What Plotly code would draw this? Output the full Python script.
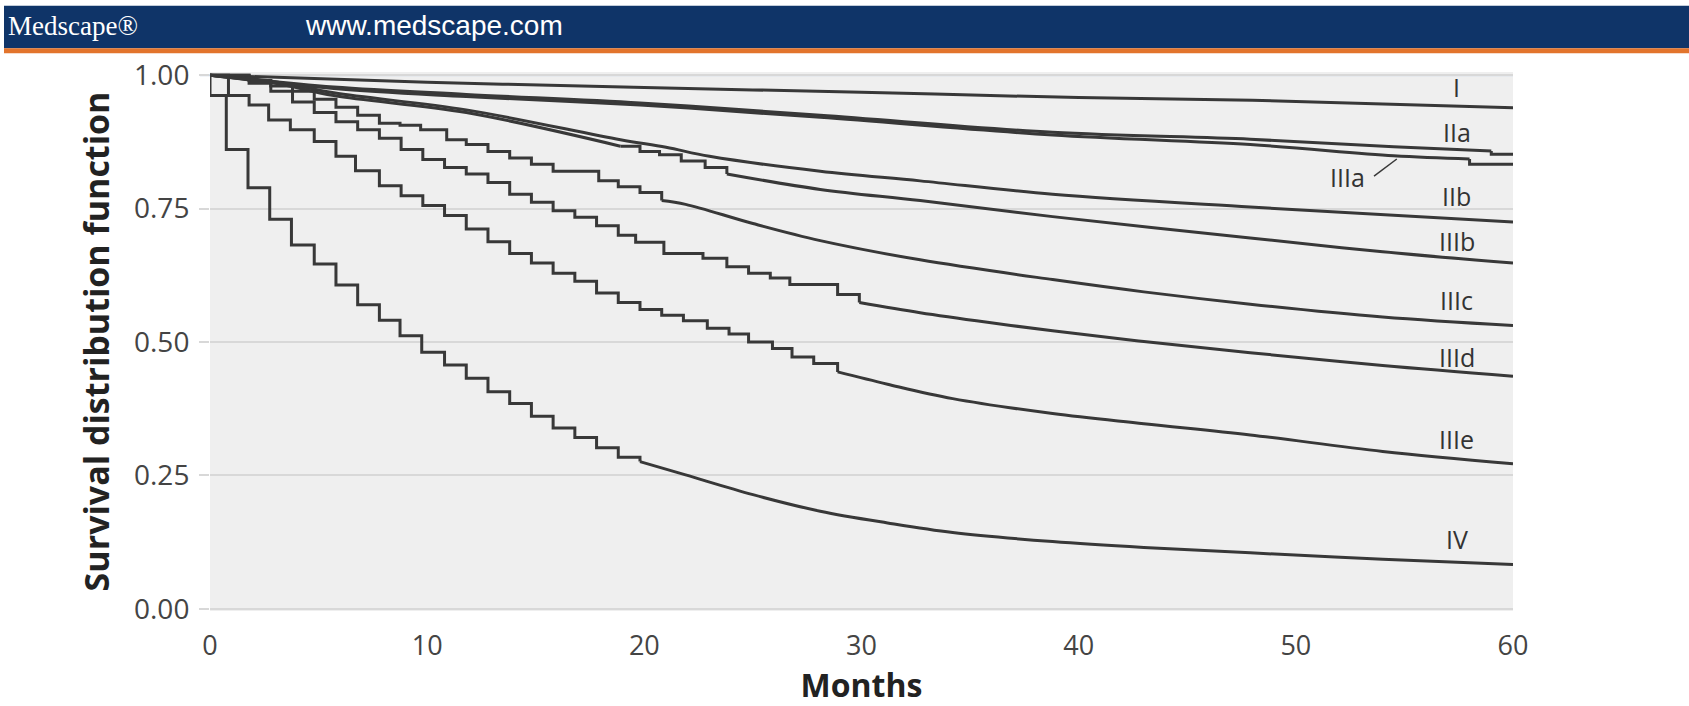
import plotly.graph_objects as go

# ---- axes ----------------------------------------------------------------
MONTH_TICKS = [0, 10, 20, 30, 40, 50, 60]
SURV_TICKS = [0.0, 0.25, 0.5, 0.75, 1.0]
SURV_TICK_TEXT = ["0.00", "0.25", "0.50", "0.75", "1.00"]

# ---- survival curves by stage --------------------------------------------
# *_STEP_*: Kaplan-Meier steps (time of drop, value after drop)
# *_TAIL_*: later portion where events are dense and the curve is smooth
I_TAIL_T = [0, 10, 20, 30, 40, 48, 60]
I_TAIL_S = [1.0, 0.987, 0.977, 0.968, 0.958, 0.953, 0.939]

IIA_TAIL_T = [0, 5.7, 11.8, 19.8, 28.1, 38.8, 47.9, 54.5, 59.0]
IIA_TAIL_S = [1.0, 0.978, 0.964, 0.948, 0.925, 0.893, 0.880, 0.866, 0.858]
IIA_END_T = [59.0, 59.0, 60.0]
IIA_END_S = [0.858, 0.852, 0.852]

IIIA_TAIL_T = [0, 5.7, 11.8, 19.8, 28.1, 38.8, 47.9, 54.5, 58.0]
IIIA_TAIL_S = [1.0, 0.975, 0.960, 0.944, 0.921, 0.888, 0.870, 0.849, 0.843]
IIIA_END_T = [58.0, 58.0, 60.0]
IIIA_END_S = [0.843, 0.833, 0.833]

IIB_TAIL_T = [0, 3, 5.7, 11.8, 18.9, 21.0, 23.0, 28.1, 32.7, 38.8, 47.9, 60]
IIB_TAIL_S = [1.0, 0.988, 0.967, 0.935, 0.879, 0.865, 0.848, 0.820, 0.802, 0.777, 0.753, 0.725]

IIIB_HEAD_T = [0, 3, 5.7, 11.8, 18.9]
IIIB_HEAD_S = [1.0, 0.985, 0.962, 0.930, 0.867]
IIIB_STEP_T = [18.9, 19.8, 20.7, 21.7, 22.8, 23.8]
IIIB_STEP_S = [0.867, 0.857, 0.851, 0.839, 0.827, 0.815]
IIIB_TAIL_T = [23.8, 28.1, 32.7, 38.8, 47.9, 54.0, 60]
IIIB_TAIL_S = [0.815, 0.786, 0.765, 0.735, 0.695, 0.669, 0.648]

IIIC_STEP_T = [0, 1.8, 2.8, 3.8, 4.8, 5.8, 6.8, 7.8, 8.75, 9.7, 10.9, 11.8,
               12.8, 13.8, 14.8, 15.8, 17.9, 18.8, 19.8, 20.8]
IIIC_STEP_S = [1.0, 0.990, 0.980, 0.970, 0.955, 0.940, 0.925, 0.910, 0.906, 0.898,
               0.879, 0.870, 0.857, 0.845, 0.833, 0.820, 0.802, 0.791, 0.780, 0.765]
IIIC_TAIL_T = [20.8, 21.9, 25.0, 28.1, 32.7, 38.8, 43.0, 47.9, 54.0, 60]
IIIC_TAIL_S = [0.765, 0.758, 0.722, 0.690, 0.654, 0.617, 0.594, 0.571, 0.547, 0.531]

IIID_STEP_T = [0, 1.8, 2.8, 3.8, 4.8, 5.8, 6.8, 7.8, 8.8, 9.8, 10.8, 11.8, 12.8,
               13.8, 14.8, 15.8, 16.8, 17.8, 18.8, 19.6, 20.9, 22.7, 23.8, 24.8,
               25.8, 26.7, 28.9, 29.9]
IIID_STEP_S = [1.0, 0.985, 0.970, 0.950, 0.930, 0.913, 0.898, 0.882, 0.861, 0.842,
               0.827, 0.815, 0.799, 0.777, 0.762, 0.746, 0.734, 0.718, 0.700, 0.687,
               0.666, 0.657, 0.641, 0.629, 0.620, 0.608, 0.589, 0.574]
IIID_TAIL_T = [29.9, 32.7, 35.8, 38.8, 43.0, 47.9, 54.0, 60]
IIID_TAIL_S = [0.574, 0.555, 0.537, 0.521, 0.501, 0.480, 0.456, 0.436]

IIIE_STEP_T = [0, 0.85, 1.8, 2.7, 3.7, 4.8, 5.8, 6.7, 7.8, 8.8, 9.8, 10.8, 11.8,
               12.8, 13.8, 14.8, 15.8, 16.8, 17.8, 18.8, 19.8, 20.8, 21.8, 22.9,
               23.9, 24.8, 25.9, 26.8, 27.8, 28.9]
IIIE_STEP_S = [1.0, 0.962, 0.944, 0.916, 0.898, 0.876, 0.848, 0.821, 0.793, 0.774,
               0.756, 0.737, 0.712, 0.688, 0.666, 0.648, 0.629, 0.614, 0.592, 0.574,
               0.561, 0.550, 0.540, 0.526, 0.515, 0.500, 0.488, 0.472, 0.460, 0.444]
IIIE_TAIL_T = [28.9, 31.2, 34.2, 38.8, 43.0, 47.9, 54.0, 60]
IIIE_TAIL_S = [0.444, 0.421, 0.394, 0.366, 0.347, 0.326, 0.295, 0.272]

IV_STEP_T = [0, 0, 0.75, 1.75, 2.75, 3.75, 4.8, 5.8, 6.8, 7.8, 8.75, 9.75, 10.8,
             11.8, 12.8, 13.8, 14.8, 15.8, 16.8, 17.8, 18.8, 19.8]
IV_STEP_S = [1.0, 0.962, 0.861, 0.789, 0.730, 0.682, 0.646, 0.607, 0.570, 0.541,
             0.512, 0.481, 0.457, 0.432, 0.407, 0.385, 0.361, 0.339, 0.321, 0.302,
             0.284, 0.276]
IV_TAIL_T = [19.8, 21.9, 25.0, 28.1, 31.2, 34.2, 38.8, 43.0, 47.9, 54.0, 60]
IV_TAIL_S = [0.276, 0.251, 0.214, 0.183, 0.161, 0.143, 0.126, 0.115, 0.105, 0.093, 0.083]

# ---- stage labels at the right-hand end ----------------------------------
LABEL_TEXT = ["I", "IIa", "IIIa", "IIb", "IIIb", "IIIc", "IIId", "IIIe", "IV"]
LABEL_X = [57.4, 57.4, 52.4, 57.4, 57.4, 57.4, 57.4, 57.4, 57.4]
LABEL_Y = [0.978, 0.894, 0.809, 0.774, 0.689, 0.578, 0.472, 0.319, 0.130]
IIIA_POINTER_X = [53.6, 54.65]
IIIA_POINTER_Y = [0.811, 0.843]

LINE_COLOR = "#383838"
LINE_WIDTH = 3

curves = [
    ("I", [("spline", I_TAIL_T, I_TAIL_S)]),
    ("IIa", [("spline", IIA_TAIL_T, IIA_TAIL_S), ("hv", IIA_END_T, IIA_END_S)]),
    ("IIIa", [("spline", IIIA_TAIL_T, IIIA_TAIL_S), ("hv", IIIA_END_T, IIIA_END_S)]),
    ("IIb", [("spline", IIB_TAIL_T, IIB_TAIL_S)]),
    ("IIIb", [("spline", IIIB_HEAD_T, IIIB_HEAD_S), ("hv", IIIB_STEP_T, IIIB_STEP_S),
              ("spline", IIIB_TAIL_T, IIIB_TAIL_S)]),
    ("IIIc", [("hv", IIIC_STEP_T, IIIC_STEP_S), ("spline", IIIC_TAIL_T, IIIC_TAIL_S)]),
    ("IIId", [("hv", IIID_STEP_T, IIID_STEP_S), ("spline", IIID_TAIL_T, IIID_TAIL_S)]),
    ("IIIe", [("hv", IIIE_STEP_T, IIIE_STEP_S), ("spline", IIIE_TAIL_T, IIIE_TAIL_S)]),
    ("IV", [("hv", IV_STEP_T, IV_STEP_S), ("spline", IV_TAIL_T, IV_TAIL_S)]),
]

fig = go.Figure()
for name, pieces in curves:
    for shape, t, s in pieces:
        line = dict(color=LINE_COLOR, width=LINE_WIDTH, shape=shape)
        if shape == "spline":
            line["smoothing"] = 1.0
        fig.add_trace(go.Scatter(
            x=t, y=s, mode="lines", name=name, showlegend=False,
            line=line, hoverinfo="skip",
        ))

fig.add_trace(go.Scatter(
    x=IIIA_POINTER_X, y=IIIA_POINTER_Y, mode="lines", showlegend=False,
    line=dict(color=LINE_COLOR, width=1.5), hoverinfo="skip",
))

for txt, lx, ly in zip(LABEL_TEXT, LABEL_X, LABEL_Y):
    fig.add_annotation(x=lx, y=ly, text=txt, showarrow=False,
                       font=dict(family="Open Sans", size=25, color="#333333"),
                       xanchor="center", yanchor="middle")

# ---- page geometry (pixels) ----------------------------------------------
W_PX, H_PX = 1689, 706
L, R, T, B = 210, 1513, 72, 617


def px(xp):
    return (xp - L) / (R - L)


def py(yp):
    return (B - yp) / (B - T)


# header band with the orange rule underneath
fig.add_shape(type="rect", xref="paper", yref="paper", layer="above",
              x0=px(4), x1=px(W_PX + 5), y0=py(48), y1=py(5),
              fillcolor="#0f3468", line=dict(width=0))
fig.add_shape(type="rect", xref="paper", yref="paper", layer="above",
              x0=px(4), x1=px(W_PX + 5), y0=py(53), y1=py(48),
              fillcolor="#e2742c", line=dict(width=0))
fig.add_annotation(xref="paper", yref="paper", x=px(6), y=py(25),
                   text="Medscape®", showarrow=False, xanchor="left", yanchor="middle",
                   font=dict(family="Liberation Serif", size=27, color="white"))
fig.add_annotation(xref="paper", yref="paper", x=px(303), y=py(25),
                   text="www.medscape.com", showarrow=False, xanchor="left", yanchor="middle",
                   font=dict(family="Liberation Sans", size=28, color="white"))

# light blue rule along the 1.00 level
fig.add_shape(type="line", xref="paper", yref="y", x0=px(200), x1=1, y0=1.0, y1=1.0,
              line=dict(color="#c9d8e6", width=2), layer="below")

fig.update_layout(
    width=W_PX, height=H_PX,
    margin=dict(l=L, r=W_PX - R, t=T, b=H_PX - B, pad=0),
    paper_bgcolor="white", plot_bgcolor="#efefef",
    font=dict(family="Open Sans", color="#444444"),
)
fig.update_xaxes(
    range=[0, 60], tickvals=MONTH_TICKS, showgrid=False, zeroline=False,
    showline=False, ticks="outside", ticklen=11, tickcolor="rgba(0,0,0,0)",
    tickfont=dict(family="Open Sans", size=27, color="#444444"),
    title=dict(text="<b>Months</b>", standoff=8,
               font=dict(family="Open Sans", size=32, color="#222222")),
)
fig.update_yaxes(
    range=[-0.004, 1.006], tickvals=SURV_TICKS, ticktext=SURV_TICK_TEXT,
    showgrid=True, gridcolor="#d8d8d8", gridwidth=2, zeroline=False, showline=False,
    ticks="outside", ticklen=10, tickcolor="#d8d8d8", tickwidth=2,
    ticklabelstandoff=4,
    tickfont=dict(family="Open Sans", size=28, color="#444444"),
    title=dict(text="<b>Survival distribution function</b>", standoff=14,
               font=dict(family="Open Sans", size=34, color="#222222")),
)

fig.write_html("out.html")
